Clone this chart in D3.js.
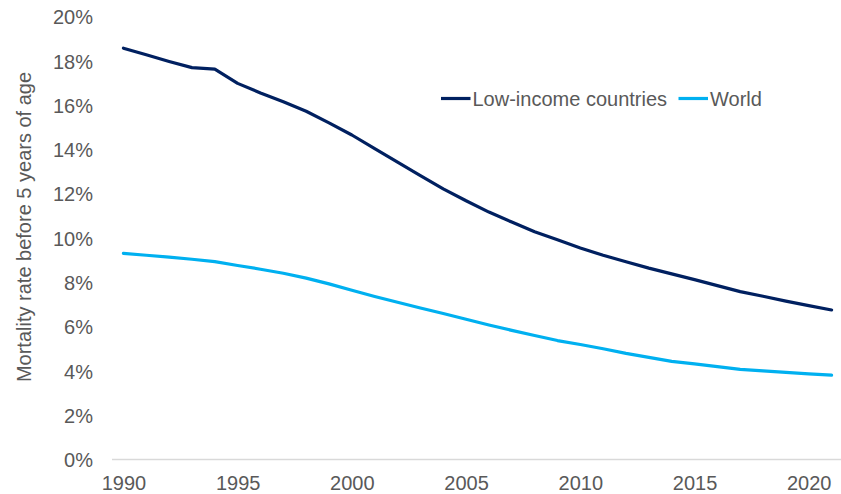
<!DOCTYPE html>
<html>
<head>
<meta charset="utf-8">
<script src="https://cdn.jsdelivr.net/npm/d3@7"></script>
<style>
  html, body { margin: 0; padding: 0; background: #ffffff; }
  svg { display: block; font-family: "Liberation Sans", Arial, sans-serif; }
</style>
</head>
<body>
<svg id="chart" width="841" height="494"></svg>
<script>
// Under-5 mortality rate (%), 1990–2021
const years = d3.range(1990, 2022);
const lowIncome = [18.57, 18.27, 17.97, 17.69, 17.62, 16.98, 16.55, 16.15, 15.72, 15.20,
                   14.65, 14.03, 13.42, 12.82, 12.22, 11.68, 11.17, 10.72, 10.28, 9.92,
                   9.55, 9.22, 8.93, 8.64, 8.38, 8.12, 7.85, 7.58, 7.37, 7.15,
                   6.95, 6.75];
const world = [9.31, 9.22, 9.14, 9.04, 8.93, 8.76, 8.59, 8.41, 8.19, 7.93,
               7.64, 7.36, 7.10, 6.84, 6.59, 6.33, 6.07, 5.83, 5.60, 5.37,
               5.19, 5.00, 4.79, 4.61, 4.43, 4.32, 4.19, 4.07, 4.00, 3.93,
               3.87, 3.81];
const seriesNames = ["Low-income countries", "World"];
const seriesColors = ["#002060", "#00B0F0"];
const yTicks = [0, 2, 4, 6, 8, 10, 12, 14, 16, 18, 20];
const xTickYears = [1990, 1995, 2000, 2005, 2010, 2015, 2020];
const yTitle = "Mortality rate before 5 years of age";

const svg = d3.select("#chart");
const plot = { left: 112, right: 843, top: 16.5, bottom: 459.5 };

const x = d3.scalePoint().domain(years).range([plot.left, plot.right]).padding(0.5);
const y = d3.scaleLinear().domain([0, 20]).range([plot.bottom, plot.top]);

const textColor = "#595959";
const fontSize = 20;

// y axis: labels only
const yAxis = svg.append("g")
  .attr("transform", `translate(${93},0)`)
  .call(d3.axisLeft(y).tickValues(yTicks).tickFormat(d => d + "%").tickSize(0).tickPadding(0));
yAxis.select(".domain").remove();
yAxis.selectAll("text")
  .attr("fill", textColor)
  .attr("font-size", fontSize)
  .attr("font-family", "Liberation Sans, Arial, sans-serif")
  .attr("text-anchor", "end")
  .attr("dy", "0.36em");

// x axis: baseline and year labels
const xAxis = svg.append("g")
  .attr("transform", `translate(0,${plot.bottom})`)
  .call(d3.axisBottom(x).tickValues(xTickYears).tickSize(0).tickPadding(0));
xAxis.select(".domain").remove();
xAxis.selectAll("text")
  .attr("fill", textColor)
  .attr("font-size", fontSize)
  .attr("font-family", "Liberation Sans, Arial, sans-serif")
  .attr("y", 23.5)
  .attr("dy", "0.36em");
svg.append("line")
  .attr("x1", plot.left).attr("x2", 841)
  .attr("y1", y(0)).attr("y2", y(0))
  .attr("stroke", "#D9D9D9").attr("stroke-width", 1.3);

// axis title
svg.append("text")
  .attr("transform", `translate(31,227) rotate(-90)`)
  .attr("text-anchor", "middle")
  .attr("fill", textColor)
  .attr("font-size", fontSize)
  .text(yTitle);

// series lines
const line = d3.line().x((d, i) => x(years[i])).y(d => y(d));
[lowIncome, world].forEach((vals, k) => {
  svg.append("path")
    .datum(vals)
    .attr("fill", "none")
    .attr("stroke", seriesColors[k])
    .attr("stroke-width", 3.2)
    .attr("stroke-linejoin", "round")
    .attr("stroke-linecap", "round")
    .attr("d", line);
});

// legend
const legendY = 98.5;
const legendItems = [
  { x0: 441, name: seriesNames[0], color: seriesColors[0] },
  { x0: 678.5, name: seriesNames[1], color: seriesColors[1] }
];
legendItems.forEach(it => {
  svg.append("line")
    .attr("x1", it.x0).attr("x2", it.x0 + 29.5)
    .attr("y1", legendY).attr("y2", legendY)
    .attr("stroke", it.color).attr("stroke-width", 3.2);
  svg.append("text")
    .attr("x", it.x0 + 31.5).attr("y", legendY)
    .attr("dy", "0.36em")
    .attr("fill", textColor)
    .attr("font-size", fontSize)
    .text(it.name);
});
</script>
</body>
</html>
